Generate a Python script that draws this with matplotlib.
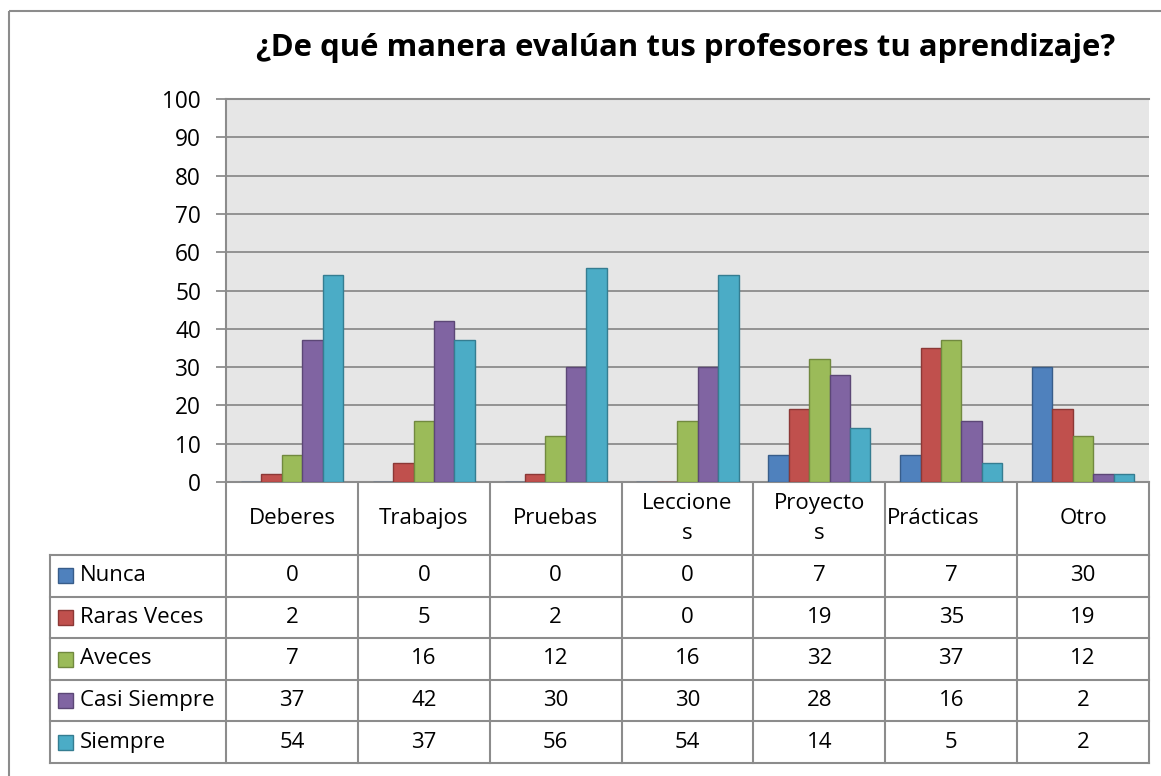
import matplotlib
matplotlib.use("Agg")
import matplotlib.pyplot as plt
import numpy as np
from matplotlib.patches import Rectangle

plt.rcParams["font.family"] = ["Open Sans", "DejaVu Sans"]

TITLE = "¿De qué manera evalúan tus profesores tu aprendizaje?"
categories = ["Deberes", "Trabajos", "Pruebas", "Lecciones", "Proyectos", "Prácticas", "Otro"]
header_labels = ["Deberes", "Trabajos", "Pruebas", "Leccione\ns", "Proyecto\ns", "Prácticas", "Otro"]
series = ["Nunca", "Raras Veces", "Aveces", "Casi Siempre", "Siempre"]
nunca = [0, 0, 0, 0, 7, 7, 30]
raras_veces = [2, 5, 2, 0, 19, 35, 19]
aveces = [7, 16, 12, 16, 32, 37, 12]
casi_siempre = [37, 42, 30, 30, 28, 16, 2]
siempre = [54, 37, 56, 54, 14, 5, 2]
values = [nunca, raras_veces, aveces, casi_siempre, siempre]

colors = ["#4F81BD", "#C0504D", "#9BBB59", "#8064A2", "#4BACC6"]
edges = ["#385D8A", "#8C3836", "#71893F", "#5C4776", "#357D91"]
GRAY = "#8c8c8c"

W, H = 1161, 776
fig = plt.figure(figsize=(W / 100, H / 100), dpi=100)

# pixel-space overlay for frame, title and data table
bg = fig.add_axes([0, 0, 1, 1])
bg.set_xlim(0, W)
bg.set_ylim(H, 0)
bg.axis("off")
bg.add_patch(Rectangle((9, 11), W, H, fill=False, ec=GRAY, lw=1.5))
bg.text(686, 56, TITLE, ha="center", va="baseline", fontsize=22.4, fontweight="bold")

# chart area
left, right, top, bottom = 226, 1149, 99, 482
ax = fig.add_axes([left / W, 1 - bottom / H, (right - left) / W, (bottom - top) / H])
ax.set_facecolor("#e6e6e6")
x = np.arange(len(categories))
width = 0.155
for i, (name, vals) in enumerate(zip(series, values)):
    ax.bar(x + (i - 2) * width, vals, width=width, color=colors[i], edgecolor=edges[i],
           linewidth=1, label=name, zorder=3)
ax.set_xlim(-0.5, len(categories) - 0.5)
ax.set_ylim(0, 100)
ax.set_yticks(np.arange(0, 101, 10))
ax.set_xticks([])
ax.grid(axis="y", color=GRAY, lw=1.3, zorder=0)
ax.spines["right"].set_visible(False)
for s in ["left", "bottom", "top"]:
    ax.spines[s].set_color(GRAY)
    ax.spines[s].set_linewidth(1.5)
ax.tick_params(axis="y", length=7, width=1.3, color=GRAY, pad=11, labelsize=16.3)

# data table below the chart
col_edges = np.linspace(left, right, len(categories) + 1)
header_bottom = 555
table_left, table_bottom = 50, 763
row_edges = np.linspace(header_bottom, table_bottom, len(series) + 1)
lw = 1.5
for cx in col_edges:
    bg.plot([cx, cx], [bottom, table_bottom], color=GRAY, lw=lw)
bg.plot([table_left, table_left], [header_bottom, table_bottom], color=GRAY, lw=lw)
for ry in row_edges:
    bg.plot([table_left, right], [ry, ry], color=GRAY, lw=lw)

for j, lab in enumerate(header_labels):
    cy = (bottom + header_bottom) / 2
    if categories[j] == "Prácticas":
        bg.text(col_edges[j] + 2, cy, lab, ha="left", va="center", fontsize=16)
    else:
        bg.text((col_edges[j] + col_edges[j + 1]) / 2, cy, lab, ha="center", va="center",
                fontsize=16, linespacing=1.6)

for i, name in enumerate(series):
    cy = (row_edges[i] + row_edges[i + 1]) / 2
    bg.add_patch(Rectangle((58, cy - 7.5), 15, 15, fc=colors[i], ec=edges[i], lw=1))
    bg.text(80, cy, name, ha="left", va="center", fontsize=16)
    for j, v in enumerate(values[i]):
        bg.text((col_edges[j] + col_edges[j + 1]) / 2, cy, str(v), ha="center", va="center",
                fontsize=16)

fig.savefig("out.png", dpi=100, facecolor="white")
